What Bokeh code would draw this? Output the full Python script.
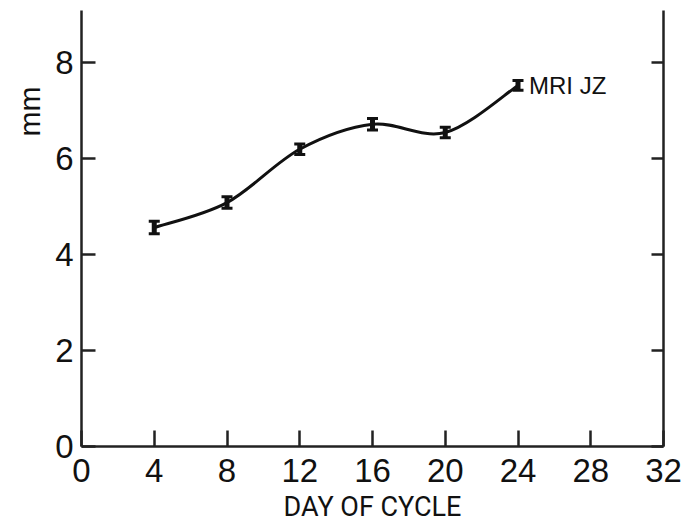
import numpy as np
from bokeh.plotting import figure
from bokeh.models import (Range1d, LinearAxis, FixedTicker, Label, Whisker,
                          TeeHead, ColumnDataSource, Title)
from bokeh.embed import file_html
from bokeh.resources import INLINE

# data
days = [4, 8, 12, 16, 20, 24]
size_mm = [4.56, 5.08, 6.19, 6.71, 6.54, 7.52]
err_mm = [0.13, 0.12, 0.11, 0.12, 0.11, 0.10]
x_ticks = [0, 4, 8, 12, 16, 20, 24, 28, 32]
y_ticks = [0, 2, 4, 6, 8]
series_label = "MRI JZ"
x_title = "DAY OF CYCLE"
y_title = "mm"

FONT = "Liberation Sans"

p = figure(width=689, height=525, output_backend="svg", toolbar_location=None,
           x_range=Range1d(0, 32), y_range=Range1d(0, 9.08),
           x_axis_location="below", y_axis_location="left")
p.min_border_left = 81
p.min_border_right = 26
p.min_border_top = 10
p.min_border_bottom = 79
p.outline_line_color = None
p.grid.visible = False
p.background_fill_color = "white"
p.border_fill_color = "white"

def style_axis(ax, tick_len, labels=True):
    ax.axis_line_width = 2.5
    ax.axis_line_color = "#222222"
    ax.major_tick_in = tick_len
    ax.major_tick_out = 0
    ax.major_tick_line_width = 2.5
    ax.major_tick_line_color = "#222222"
    ax.minor_tick_line_color = None
    if labels:
        ax.major_label_text_font = FONT
        ax.major_label_text_font_size = "33px"
        ax.major_label_text_color = "#111111"
    else:
        ax.major_label_overrides = {t: "" for t in y_ticks}
        ax.major_label_standoff = 0

xa = p.xaxis[0]
xa.ticker = FixedTicker(ticks=x_ticks)
style_axis(xa, 16)
xa.major_label_standoff = 12
xa.axis_label = x_title
xa.axis_label_text_font = "Roboto"
xa.axis_label_text_font_style = "normal"
xa.axis_label_text_font_size = "27px"
xa.axis_label_text_color = "#111111"
xa.axis_label_standoff = 6
xa.axis_label_text_baseline = "middle"

ya = p.yaxis[0]
ya.ticker = FixedTicker(ticks=y_ticks)
style_axis(ya, 14)
ya.major_label_standoff = 8

ra = LinearAxis(ticker=FixedTicker(ticks=y_ticks))
style_axis(ra, 12, labels=False)
p.add_layout(ra, "right")

# y title near the top of the left side
p.add_layout(Title(text=y_title, align="right", offset=76, standoff=14,
                   text_font=FONT, text_font_size="30px", text_font_style="normal",
                   text_color="#111111"), "left")

# smooth curve through the points (Catmull-Rom -> cubic Bezier)
xs = np.array(days, dtype=float)
ys = np.array(size_mm, dtype=float)
xe = np.concatenate([[xs[0]], xs, [xs[-1]]])
ye = np.concatenate([[ys[0]], ys, [ys[-1]]])
n = len(xs)
x0 = xs[:-1]; y0 = ys[:-1]; x1 = xs[1:]; y1 = ys[1:]
cx0 = xe[1:n] + (xe[2:n + 1] - xe[0:n - 1]) / 6.0
cy0 = ye[1:n] + (ye[2:n + 1] - ye[0:n - 1]) / 6.0
cx1 = xe[2:n + 1] - (xe[3:n + 2] - xe[1:n]) / 6.0
cy1 = ye[2:n + 1] - (ye[3:n + 2] - ye[1:n]) / 6.0
p.bezier(x0=x0, y0=y0, x1=x1, y1=y1, cx0=cx0, cy0=cy0, cx1=cx1, cy1=cy1,
         line_color="#111111", line_width=3)

# error bars
src = ColumnDataSource(dict(x=days, upper=[v + e for v, e in zip(size_mm, err_mm)],
                            lower=[v - e for v, e in zip(size_mm, err_mm)]))
p.segment(x0="x", y0="lower", x1="x", y1="upper", source=src,
          line_color="#111111", line_width=5)
wh = Whisker(source=src, base="x", upper="upper", lower="lower",
             line_color="#111111", line_width=1,
             upper_head=TeeHead(size=11, line_width=3, line_color="#111111"),
             lower_head=TeeHead(size=11, line_width=3, line_color="#111111"))
p.add_layout(wh)

# series label
p.add_layout(Label(x=days[-1], y=size_mm[-1], text=series_label, x_offset=11,
                   text_font=FONT, text_font_size="24px", text_color="#111111",
                   text_baseline="middle", text_align="left"))

open("out.html", "w").write(file_html(p, INLINE))
